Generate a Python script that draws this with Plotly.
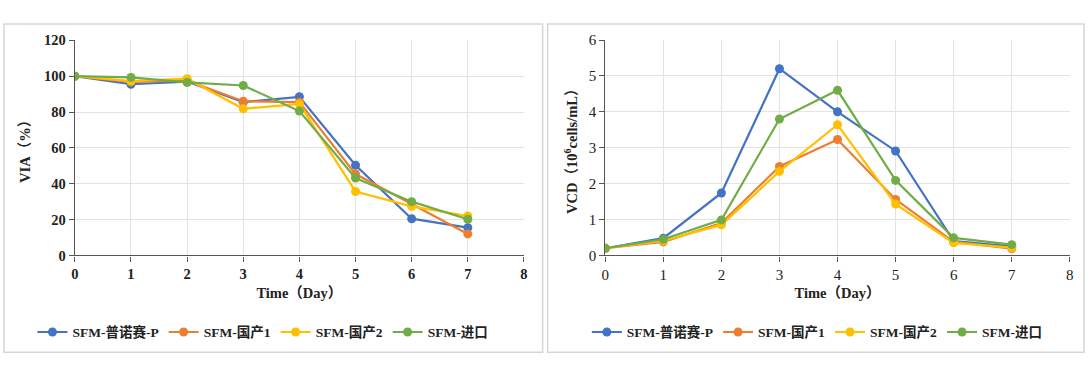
import plotly.graph_objects as go

days = [0, 1, 2, 3, 4, 5, 6, 7]
series_names = ["SFM-普诺赛-P", "SFM-国产1", "SFM-国产2", "SFM-进口"]
colors = ["#4472C4", "#ED7D31", "#FFC000", "#70AD47"]

via_p = [100, 95.5, 97, 85.5, 88.5, 50.3, 20.5, 15.5]
via_d1 = [100, 96.8, 97.5, 86, 85.5, 45.4, 28.7, 12]
via_d2 = [100, 97.2, 98.6, 81.8, 84.5, 35.7, 27.4, 22]
via_imp = [100, 99.3, 96.5, 94.8, 80.5, 43.2, 30, 20.2]

vcd_p = [0.2, 0.48, 1.74, 5.2, 4.0, 2.91, 0.4, 0.25]
vcd_d1 = [0.2, 0.38, 0.9, 2.48, 3.23, 1.56, 0.38, 0.19]
vcd_d2 = [0.2, 0.41, 0.85, 2.34, 3.64, 1.43, 0.35, 0.22]
vcd_imp = [0.2, 0.45, 0.99, 3.8, 4.6, 2.09, 0.49, 0.3]

via_all = [via_p, via_d1, via_d2, via_imp]
vcd_all = [vcd_p, vcd_d1, vcd_d2, vcd_imp]

FONT = "Liberation Serif, Times New Roman, Noto Sans CJK SC, serif"
W, H = 1089, 376

# the captured page is slightly reduced; map reference pixels to figure fractions
SX, OX = 0.9937, 3.8
SY, OY = 0.96, 6.9


def px(x):
    return min(max(((x - OX) / SX) / W, 0), 1)


def py(y):
    return min(max((H - (y - OY) / SY) / H, 0), 1)


fig = go.Figure()
for name, col, ys in zip(series_names, colors, via_all):
    fig.add_trace(go.Scatter(x=days, y=ys, name=name, mode="lines+markers",
                             line=dict(color=col, width=2.2),
                             marker=dict(color=col, size=9),
                             xaxis="x", yaxis="y", legend="legend"))
for name, col, ys in zip(series_names, colors, vcd_all):
    fig.add_trace(go.Scatter(x=days, y=ys, name=name, mode="lines+markers",
                             line=dict(color=col, width=2.2),
                             marker=dict(color=col, size=9),
                             xaxis="x2", yaxis="y2", legend="legend2"))

tickfont_b = dict(family=FONT, size=14.5, color="#222", weight="bold")
tickfont_r = dict(family=FONT, size=15, color="#222")
titlefont = dict(family=FONT, size=14.5, color="#222", weight="bold")
legfont = dict(family=FONT, size=13.5, color="#222", weight="bold")


def axis_style(tf):
    return dict(showline=True, linecolor="#555", linewidth=1.2,
                ticks="outside", ticklen=5, tickcolor="#555",
                showgrid=True, gridcolor="#e3e3e3", gridwidth=1,
                zeroline=False, tickfont=tf)


fig.update_layout(
    autosize=True,
    margin=dict(l=0, r=0, t=0, b=0),
    paper_bgcolor="white", plot_bgcolor="white",
    font=dict(family=FONT, color="#222"),
    xaxis=dict(domain=[px(74.7), px(524.3)], range=[0, 8], dtick=1,
               anchor="y", title=dict(text="Time（Day）", font=titlefont, standoff=6),
               **axis_style(tickfont_b)),
    yaxis=dict(domain=[py(255), py(39.3)], range=[0, 120], dtick=20,
               anchor="x", title=dict(text="VIA（%）", font=titlefont, standoff=9),
               **axis_style(tickfont_b)),
    xaxis2=dict(domain=[px(605.7), px(1070.7)], range=[0, 8], dtick=1,
                anchor="y2", title=dict(text="Time（Day）", font=titlefont, standoff=6),
                **axis_style(tickfont_r)),
    yaxis2=dict(domain=[py(255), py(39)], range=[0, 6], dtick=1,
                anchor="x2", title=dict(text="VCD（10<sup>6</sup>cells/mL）", font=titlefont, standoff=7),
                **axis_style(tickfont_r)),
    legend=dict(orientation="h", x=px(263), y=py(332), xanchor="center", yanchor="middle",
                font=legfont, itemwidth=30,
                bgcolor="rgba(0,0,0,0)", tracegroupgap=0),
    legend2=dict(orientation="h", x=px(818), y=py(332), xanchor="center", yanchor="middle",
                 font=legfont, itemwidth=30,
                 bgcolor="rgba(0,0,0,0)", tracegroupgap=0),
    showlegend=True,
    shapes=[
        dict(type="rect", xref="paper", yref="paper", x0=px(3), x1=px(543), y0=py(352), y1=py(23),
             line=dict(color="#d6d6d6", width=1.5), layer="below"),
        dict(type="rect", xref="paper", yref="paper", x0=px(548), x1=px(1085), y0=py(352), y1=py(23),
             line=dict(color="#d6d6d6", width=1.5), layer="below"),
    ],
)

post = (
    "document.documentElement.style.margin='0';"
    "document.documentElement.style.height='100%';"
    "document.documentElement.style.overflow='hidden';"
    "document.body.style.margin='0';"
    "document.body.style.height='100%';"
    "document.body.style.overflow='hidden';"
    "var gd=document.getElementById('{plot_id}');"
    "if(gd.parentElement){gd.parentElement.style.height='100%';gd.parentElement.style.width='100%';}"
    "Plotly.Plots.resize(gd);"
)

fig.write_html("out.html",
               default_width="100%", default_height="100%",
               config={"displayModeBar": False, "responsive": True},
               post_script=post)
